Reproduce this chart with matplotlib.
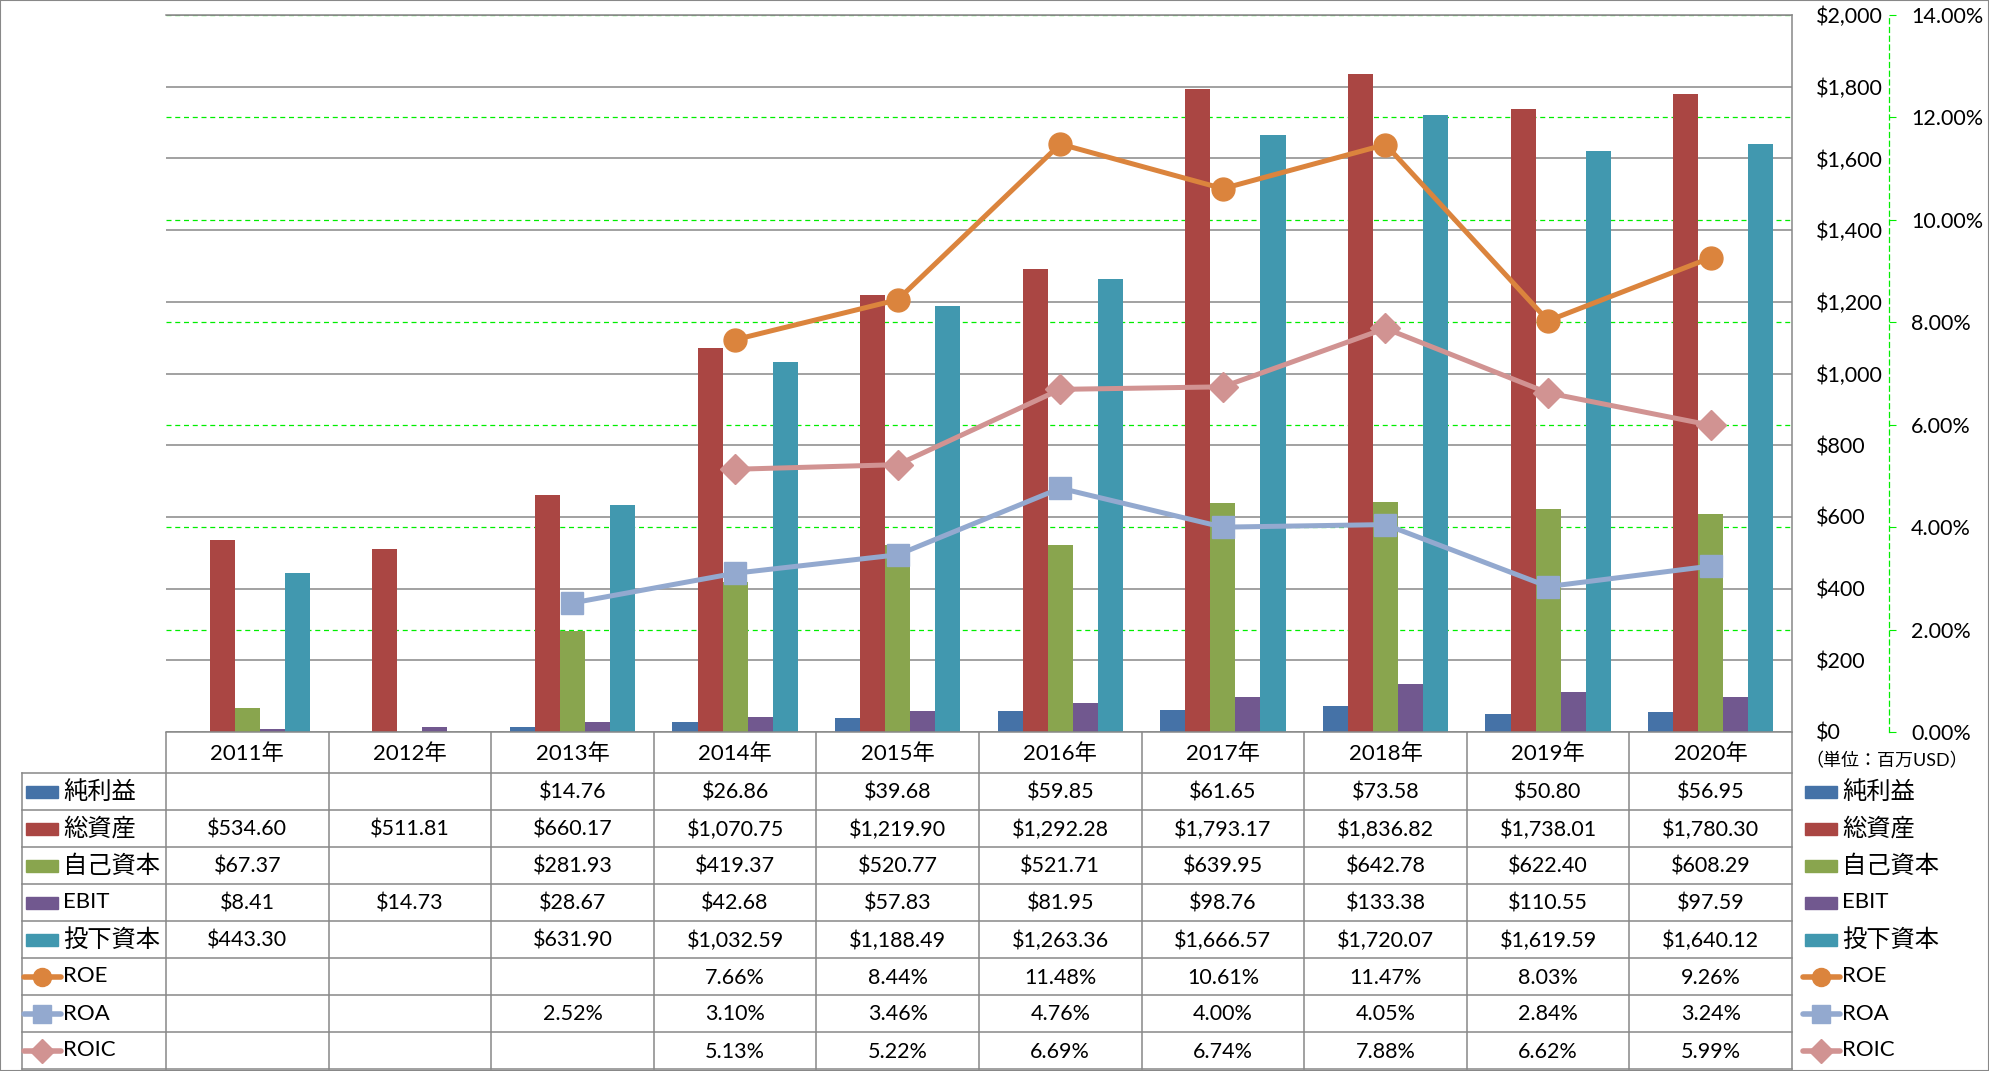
import numpy as np
import matplotlib.pyplot as plt
from matplotlib.patches import Rectangle
from matplotlib.ticker import FuncFormatter, MultipleLocator

plt.rcParams['font.family'] = ['Lato', 'Noto Sans CJK JP']

# data (単位: 百万USD / %)
years = [2011, 2012, 2013, 2014, 2015, 2016, 2017, 2018, 2019, 2020]
net_income = [np.nan, np.nan, 14.76, 26.86, 39.68, 59.85, 61.65, 73.58, 50.80, 56.95]
total_assets = [534.60, 511.81, 660.17, 1070.75, 1219.90, 1292.28, 1793.17, 1836.82, 1738.01, 1780.30]
equity = [67.37, np.nan, 281.93, 419.37, 520.77, 521.71, 639.95, 642.78, 622.40, 608.29]
ebit = [8.41, 14.73, 28.67, 42.68, 57.83, 81.95, 98.76, 133.38, 110.55, 97.59]
invested_capital = [443.30, np.nan, 631.90, 1032.59, 1188.49, 1263.36, 1666.57, 1720.07, 1619.59, 1640.12]
roe = [np.nan, np.nan, np.nan, 7.66, 8.44, 11.48, 10.61, 11.47, 8.03, 9.26]
roa = [np.nan, np.nan, 2.52, 3.10, 3.46, 4.76, 4.00, 4.05, 2.84, 3.24]
roic = [np.nan, np.nan, np.nan, 5.13, 5.22, 6.69, 6.74, 7.88, 6.62, 5.99]

bar_names = ['純利益', '総資産', '自己資本', 'EBIT', '投下資本']
bar_data = [net_income, total_assets, equity, ebit, invested_capital]
bar_colors = ['#4572A7', '#AA4643', '#89A54E', '#71588F', '#4198AF']
line_names = ['ROE', 'ROA', 'ROIC']
line_data = [roe, roa, roic]
line_colors = ['#DB843D', '#93A9CF', '#D19392']
line_markers = ['o', 's', 'D']
line_msize = [16.5, 16.5, 15.5]

GRAY = '#888888'
GREEN = '#00EE00'

# layout in pixels
W, H = 1989, 1071
PL, PR, PT, PB = 166, 1792, 15, 732
HEAD, RH = 41, 37
LEG_L = 22
cw = (PR - PL) / len(years)


def u(px):
    # pixel x -> category units
    return (px - PL) / cw - 0.5


fig = plt.figure(figsize=(W / 100, H / 100), dpi=100)

ax = fig.add_axes([PL / W, 1 - PB / H, (PR - PL) / W, (PB - PT) / H])
ax2 = ax.twinx()   # percent axis + green grid, underneath
ax3 = ax.twinx()   # lines on top
ax2.set_zorder(0)
ax.set_zorder(1)
ax3.set_zorder(2)
ax.patch.set_visible(False)

x = np.arange(len(years))
bw = 0.154
for k, (vals, c) in enumerate(zip(bar_data, bar_colors)):
    ax.bar(x + (k - 2) * bw, vals, width=bw, color=c, zorder=2)

ax.set_xlim(-0.5, 9.5)
ax.set_ylim(0, 2000)
ax.set_xticks([])
ax.yaxis.set_major_locator(MultipleLocator(200))
ax.yaxis.tick_right()
ax.yaxis.set_major_formatter(FuncFormatter(lambda v, p: f"${v:,.0f}"))
ax.tick_params(axis='y', length=0, pad=17, labelsize=15.5)
ax.grid(axis='y', color=GRAY, lw=1.1)
ax.set_axisbelow(True)
ax.axhline(2000, color=GRAY, lw=1.1, clip_on=False, zorder=3)
for s in ['left', 'top']:
    ax.spines[s].set_visible(False)
for s in ['right', 'bottom']:
    ax.spines[s].set_color(GRAY)
    ax.spines[s].set_linewidth(1.1)

ax2.set_ylim(0, 14)
ax2.yaxis.set_major_locator(MultipleLocator(2))
ax2.yaxis.set_major_formatter(FuncFormatter(lambda v, p: f"{v:.2f}%"))
ax2.tick_params(axis='y', direction='out', length=5, color=GREEN, width=0.8,
                pad=11, labelsize=15.5)
ax2.grid(axis='y', color=GREEN, lw=0.9, linestyle=(0, (4, 3)))
for s in ['left', 'top', 'bottom']:
    ax2.spines[s].set_visible(False)
ax2.spines['right'].set_position(('outward', (1889 - PR) * 0.72))
ax2.spines['right'].set_color(GREEN)
ax2.spines['right'].set_linestyle((0, (4, 3)))
ax2.spines['right'].set_linewidth(0.9)

ax3.set_ylim(0, 14)
ax3.axis('off')
for vals, c, m, ms in zip(line_data, line_colors, line_markers, line_msize):
    ax3.plot(x, vals, color=c, lw=3.6, marker=m, markersize=ms,
             markerfacecolor=c, markeredgecolor=c, solid_capstyle='round')

# data table below the plot
tb = fig.add_axes([0, 0, 1, (H - PB) / H])
tb.set_xlim(u(0), u(W))
tb.set_ylim(H, PB)
tb.axis('off')

row_top = [PB + HEAD + k * RH for k in range(9)]
bottom = row_top[-1]
lk = dict(color=GRAY, lw=1.1)
for i in range(len(years) + 1):
    tb.plot([i - 0.5, i - 0.5], [PB, bottom], **lk)
tb.plot([u(LEG_L), u(LEG_L)], [row_top[0], bottom], **lk)
for yy in row_top:
    tb.plot([u(LEG_L), 9.5], [yy, yy], **lk)

for i, yr in enumerate(years):
    tb.text(i, PB + HEAD / 2 + 1, f"{yr}年", ha='center', va='center', fontsize=16)

rows = [(n, d, 'bar', c, None) for n, d, c in zip(bar_names, bar_data, bar_colors)]
rows += [(n, d, 'line', c, m) for n, d, c, m in zip(line_names, line_data, line_colors, line_markers)]

for r, (name, vals, kind, c, m) in enumerate(rows):
    yc = row_top[r] + RH / 2
    for i, v in enumerate(vals):
        if np.isnan(v):
            continue
        s = f"{v:.2f}%" if kind == 'line' else f"${v:,.2f}"
        tb.text(i, yc + 1, s, ha='center', va='center', fontsize=15.5)
    # legend keys: left column and right side
    for kx0, kx1, tx in [(26, 58, 63), (1805, 1837, 1842)]:
        if kind == 'bar':
            tb.add_patch(Rectangle((u(kx0), yc - 6), u(kx1) - u(kx0), 12,
                                   color=c, clip_on=False))
        else:
            tb.plot([u(kx0 - 2), u(kx1 + 3)], [yc, yc], color=c, lw=4,
                    solid_capstyle='round', clip_on=False)
            tb.plot([u((kx0 + kx1) / 2)], [yc], marker=m, color=c,
                    markersize=13 if m != 'D' else 12, clip_on=False)
        fs = 16 if name.isascii() else 17.5
        tb.text(u(tx), yc, name, ha='left', va='center', fontsize=fs)

tb.text(u(1887), 761, '（単位：百万USD）', ha='center', va='center', fontsize=13)

fig.patches.append(Rectangle((0, 0), 1, 1, transform=fig.transFigure,
                             fill=False, ec=GRAY, lw=1.5))

fig.savefig('out.png', dpi=100)
